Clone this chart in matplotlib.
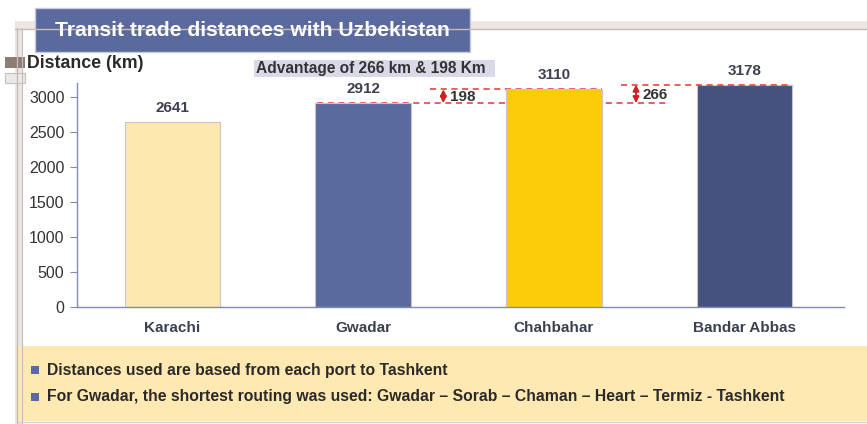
import matplotlib.pyplot as plt
from matplotlib.patches import Rectangle

plt.rcParams['font.family'] = ['Liberation Sans', 'DejaVu Sans']

# data
ports = ['Karachi', 'Gwadar', 'Chahbahar', 'Bandar Abbas']
distances = [2641, 2912, 3110, 3178]
bar_colors = ['#fde9b0', '#5b6a9e', '#fccb0a', '#45527f']
yticks = [0, 500, 1000, 1500, 2000, 2500, 3000]
advantages = [198, 266]
notes = ['Distances used are based from each port to Tashkent',
         'For Gwadar, the shortest routing was used: Gwadar \u2013 Sorab \u2013 Chaman \u2013 Heart \u2013 Termiz - Tashkent']

W, H = 867, 424
fig = plt.figure(figsize=(W / 100, H / 100), dpi=100)
fig.patch.set_facecolor('white')

# background layer in pixel coords
bg = fig.add_axes([0, 0, 1, 1], zorder=0)
bg.set_xlim(0, W)
bg.set_ylim(H, 0)
bg.axis('off')

# frame bands
bg.add_patch(Rectangle((15, 21), W - 15, 8, fc='#ebe7e3', ec='none'))
bg.plot([15, W], [28.5, 28.5], color='#c4bcba', lw=1)
bg.add_patch(Rectangle((15, 21), 7, H - 21, fc='#ebe7e3', ec='none'))
bg.plot([17, 17], [28, H], color='#c4bcba', lw=1)
bg.plot([22, 22], [28, H], color='#c4bcba', lw=0.8)
# small tabs on the left
bg.add_patch(Rectangle((5, 57), 20, 11, fc='#8c7d77', ec='none'))
bg.add_patch(Rectangle((5, 73), 20, 10, fc='#ece8e4', ec='#c8c0bc', lw=0.8))
# title box
bg.add_patch(Rectangle((35, 8), 435, 44, fc='#5b6a9e', ec='#c8c8d8', lw=1))
bg.text(55, 30, 'Transit trade distances with Uzbekistan', color='white',
        fontsize=15.2, fontweight='bold', va='center', ha='left')
# y label
bg.text(27, 63, 'Distance (km)', color='#2a2a2a', fontsize=12.8,
        fontweight='bold', va='center', ha='left')
# advantage box
bg.add_patch(Rectangle((254, 60), 241, 17, fc='#d9d9e8', ec='none'))
bg.text(256, 68.5, 'Advantage of 266 km & 198 Km', color='#333333',
        fontsize=11.2, fontweight='bold', va='center', ha='left')
# footnote area
bg.add_patch(Rectangle((18, 346), W - 18, 75, fc='#fee9b2', ec='none'))
bg.plot([18, W], [421.5, 421.5], color='#d4d0cc', lw=1)
for i, note in enumerate(notes):
    y = 370 + i * 27
    bg.add_patch(Rectangle((31, y - 4), 8, 8, fc='#5b6a9e', ec='none'))
    bg.text(47, y, note, color='#2a2a2a', fontsize=11.35, fontweight='bold',
            va='center', ha='left')

# chart axes
left, right, top, bottom = 77, 844, 83, 307
ax = fig.add_axes([left / W, (H - bottom) / H, (right - left) / W, (bottom - top) / H], zorder=1)
ax.patch.set_alpha(0)
x = range(len(ports))
ax.bar(x, distances, width=0.5, color=bar_colors, edgecolor='#c8c4c8', linewidth=0.8, zorder=2)
for xi, d in zip(x, distances):
    ax.annotate(str(d), (xi, d), xytext=(0, 5), textcoords='offset points',
                ha='center', va='bottom', fontsize=11, fontweight='bold', color='#3d4050')

ax.set_xlim(-0.5, 3.52)
ax.set_ylim(0, 3200)
ax.set_yticks(yticks)
ax.set_xticks(list(x))
ax.set_xticklabels(ports, fontsize=11, fontweight='bold', color='#3d4050')
ax.tick_params(axis='x', length=0, pad=10)
ax.tick_params(axis='y', length=5, color='#7f8bb5', labelsize=11.5, labelcolor='#333333', pad=4)
for s in ['top', 'right']:
    ax.spines[s].set_visible(False)
for s in ['left', 'bottom']:
    ax.spines[s].set_color('#7f8bb5')
    ax.spines[s].set_linewidth(1)

# dashed reference lines
red = '#e23434'
ax.plot([0.76, 2.61], [distances[1], distances[1]], color=red, lw=1.1, ls=(0, (4, 3)), zorder=1)
ax.plot([1.35, 2.25], [distances[2], distances[2]], color=red, lw=1.1, ls=(0, (4, 3)), zorder=1)
ax.plot([2.35, 3.25], [distances[3], distances[3]], color=red, lw=1.1, ls=(0, (4, 3)), zorder=3)

# advantage arrows
for xa, adv, top_val in [(1.42, advantages[0], distances[2]), (2.43, advantages[1], distances[3])]:
    ax.annotate('', xy=(xa, top_val), xytext=(xa, distances[1]),
                arrowprops=dict(arrowstyle='<|-|>', color='#cc2222', lw=1.4,
                                mutation_scale=9, shrinkA=0, shrinkB=0))
    ax.text(xa + 0.035, (top_val + distances[1]) / 2 - 10, str(adv), fontsize=11,
            fontweight='bold', color='#333333', va='center', ha='left')

fig.savefig('out.png', dpi=100)
